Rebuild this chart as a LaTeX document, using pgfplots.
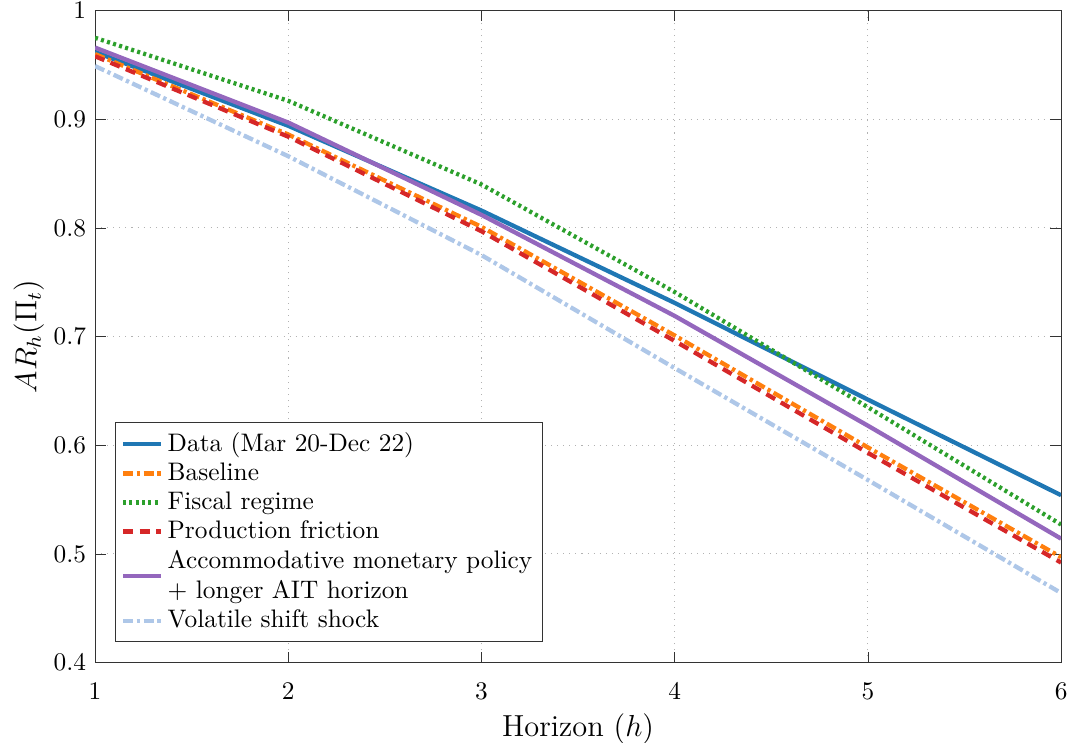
\documentclass[border=0pt]{standalone}
\usepackage{pgfplots}
\pgfplotsset{compat=1.18}
\definecolor{cdata}{HTML}{1F77B4}
\definecolor{cbase}{HTML}{FF7F0E}
\definecolor{cfisc}{HTML}{2CA02C}
\definecolor{cprod}{HTML}{D62728}
\definecolor{cacco}{HTML}{9467BD}
\definecolor{cvol}{HTML}{AEC7E8}
% 1 px of the reference ~ 0.3947pt
\begin{document}
\begin{tikzpicture}
\begin{axis}[
  width=381.3pt,
  height=257.3pt,
  scale only axis,
  xmin=1, xmax=6,
  ymin=0.4, ymax=1,
  xtick={1,2,3,4,5,6},
  ytick={0.4,0.5,0.6,0.7,0.8,0.9,1},
  xlabel={Horizon ($h$)},
  ylabel={$AR_h(\Pi_t)$},
  grid=major,
  major grid style={gray!60, dotted},
  tick align=inside,
  axis line style={black!80},
  tick style={black!80},
  tick label style={font=\normalsize},
  xticklabel style={yshift=-4.5pt},
  label style={font=\large},
  ylabel style={yshift=-3pt},
  xlabel style={yshift=1pt},
  legend cell align=left,
  legend style={at={(0.021,0.031)}, anchor=south west, draw=black!80,
    font=\normalsize, cells={align=left}, row sep=-1pt, inner xsep=2pt},
  legend image code/.code={\draw[#1] (0cm,0cm) -- (0.52cm,0cm);},
]
\addplot[cdata, line width=1.7pt] coordinates {
  (1,0.962) (2,0.894) (3,0.816) (4,0.731) (5,0.642) (6,0.554)
};
\addlegendentry{Data (Mar 20-Dec 22)}
\addplot[cbase, line width=1.7pt, dash pattern=on 4pt off 1.4pt on 1.3pt off 1.4pt] coordinates {
  (1,0.960) (2,0.886) (3,0.801) (4,0.701) (5,0.598) (6,0.497)
};
\addlegendentry{Baseline}
\addplot[cfisc, line width=1.7pt, dash pattern=on 1.2pt off 1.3pt] coordinates {
  (1,0.975) (2,0.917) (3,0.840) (4,0.741) (5,0.635) (6,0.527)
};
\addlegendentry{Fiscal regime}
\addplot[cprod, line width=1.7pt, dash pattern=on 4pt off 2.6pt] coordinates {
  (1,0.958) (2,0.884) (3,0.797) (4,0.696) (5,0.593) (6,0.492)
};
\addlegendentry{Production friction}
\addplot[cacco, line width=1.7pt] coordinates {
  (1,0.966) (2,0.897) (3,0.812) (4,0.719) (5,0.618) (6,0.514)
};
\addlegendentry{Accommodative monetary policy\\$+$ longer AIT horizon}
\addplot[cvol, line width=1.7pt, dash pattern=on 4pt off 1.4pt on 1.3pt off 1.4pt] coordinates {
  (1,0.949) (2,0.866) (3,0.775) (4,0.671) (5,0.568) (6,0.464)
};
\addlegendentry{Volatile shift shock}
\end{axis}
\pgfresetboundingbox
\path (current axis.south west) ++(-37.5pt,-31.6pt) coordinate (bbA);
\path (current axis.north east) ++(4.7pt,4.2pt) coordinate (bbB);
\useasboundingbox (bbA) rectangle (bbB);
\end{tikzpicture}
\end{document}
